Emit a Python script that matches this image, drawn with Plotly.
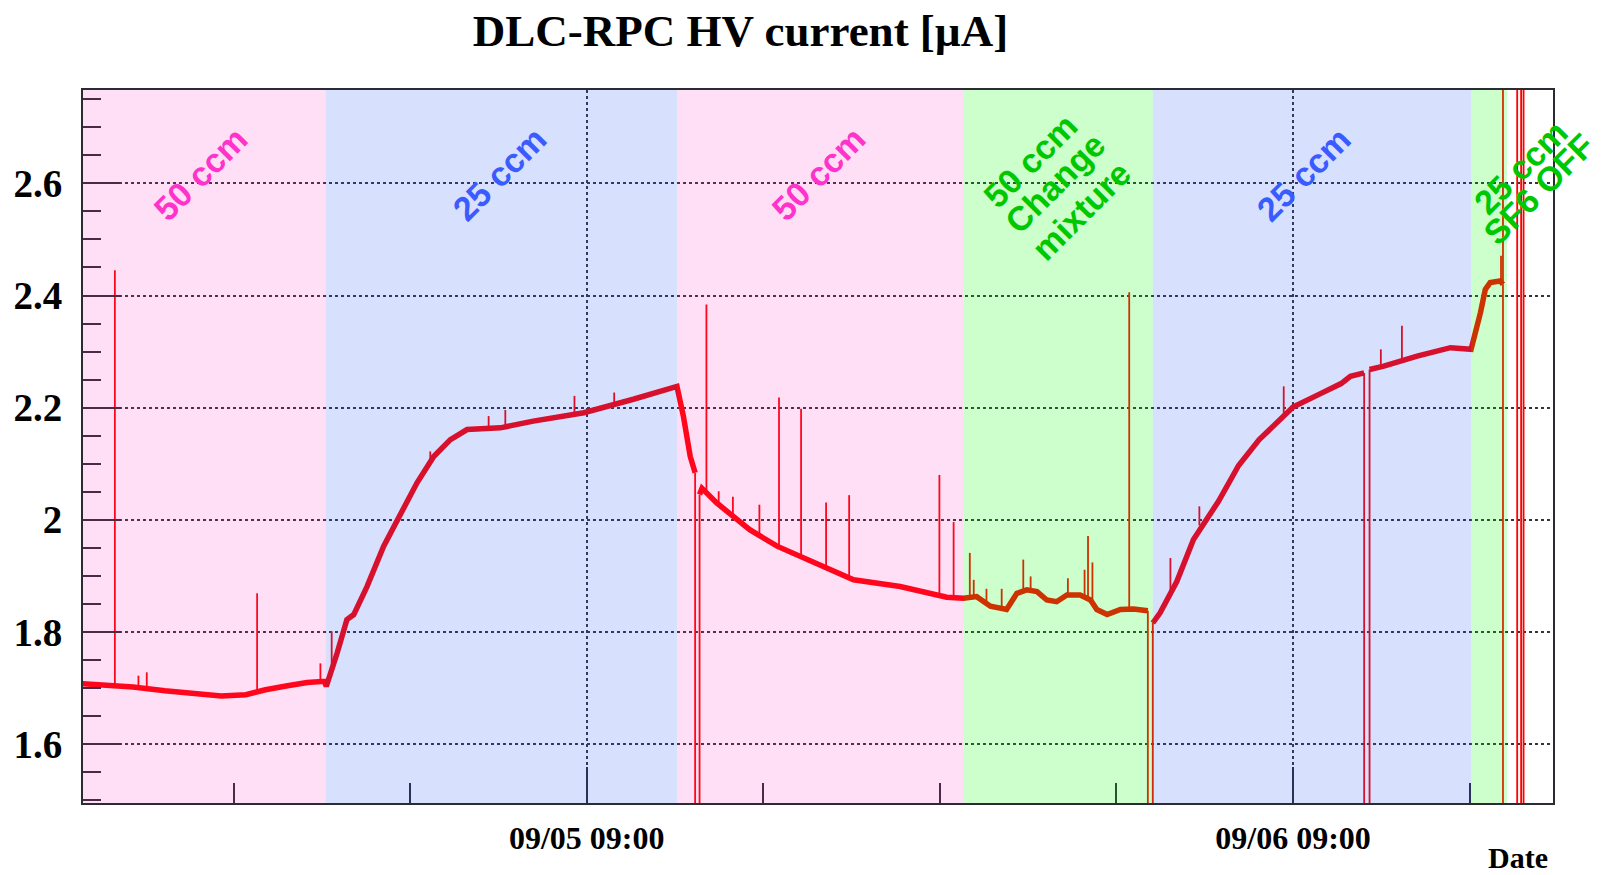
import pandas as pd
import plotly.graph_objects as go

# ---- HV current readings (µA) -------------------------------------------
curve_time = [
    "2023-09-04 15:50", "2023-09-04 16:35", "2023-09-04 17:35", "2023-09-04 18:40",
    "2023-09-04 19:40", "2023-09-04 20:35", "2023-09-04 21:25", "2023-09-04 22:05",
    "2023-09-04 22:50", "2023-09-04 23:30", "2023-09-05 00:05", "2023-09-05 00:09",
    "2023-09-05 00:31", "2023-09-05 00:51", "2023-09-05 01:05", "2023-09-05 01:32",
    "2023-09-05 02:06", "2023-09-05 02:40", "2023-09-05 03:14", "2023-09-05 03:48",
    "2023-09-05 04:22", "2023-09-05 04:56", "2023-09-05 06:04", "2023-09-05 07:11",
    "2023-09-05 08:54", "2023-09-05 10:35", "2023-09-05 12:00", "2023-09-05 12:04",
    "2023-09-05 12:17", "2023-09-05 12:31", "2023-09-05 12:41", None,
    "2023-09-05 12:50", "2023-09-05 12:55", "2023-09-05 13:25", "2023-09-05 13:59",
    "2023-09-05 14:33", "2023-09-05 15:28", "2023-09-05 16:15", "2023-09-05 17:23",
    "2023-09-05 18:04", "2023-09-05 19:39", "2023-09-05 20:47", "2023-09-05 21:14",
    "2023-09-05 21:48", "2023-09-05 22:15", "2023-09-05 22:43", "2023-09-05 23:16",
    "2023-09-05 23:37", "2023-09-05 23:57", "2023-09-06 00:18", "2023-09-06 00:38",
    "2023-09-06 00:58", "2023-09-06 01:19", "2023-09-06 01:46", "2023-09-06 02:07",
    "2023-09-06 02:20", "2023-09-06 02:41", "2023-09-06 03:08", "2023-09-06 03:35",
    "2023-09-06 04:04", None,
    "2023-09-06 04:14", "2023-09-06 04:29", "2023-09-06 05:03", "2023-09-06 05:37",
    "2023-09-06 06:28", "2023-09-06 07:09", "2023-09-06 07:51", "2023-09-06 08:33",
    "2023-09-06 09:00", "2023-09-06 09:56", "2023-09-06 10:38", "2023-09-06 10:57",
    "2023-09-06 11:25", None,
    "2023-09-06 11:36", "2023-09-06 12:05", "2023-09-06 13:13", "2023-09-06 14:21",
    "2023-09-06 15:03", "2023-09-06 15:12", "2023-09-06 15:22", "2023-09-06 15:32",
    "2023-09-06 15:42", "2023-09-06 16:02", "2023-09-06 16:08",
]
curve_value = [
    1.708, 1.706, 1.702, 1.695,
    1.690, 1.686, 1.688, 1.697,
    1.704, 1.710, 1.712, 1.703,
    1.762, 1.822, 1.831, 1.881,
    1.953, 2.012, 2.066, 2.113,
    2.143, 2.161, 2.164, 2.176,
    2.191, 2.215, 2.235, 2.238,
    2.185, 2.113, 2.084, None,
    2.045, 2.056, 2.030, 2.006,
    1.982, 1.953, 1.935, 1.911,
    1.893, 1.881, 1.866, 1.862,
    1.860, 1.863, 1.846, 1.840,
    1.869, 1.875, 1.872, 1.857,
    1.854, 1.866, 1.866, 1.857,
    1.840, 1.831, 1.840, 1.841,
    1.838, None,
    1.816, 1.834, 1.890, 1.965,
    2.033, 2.097, 2.143, 2.180,
    2.201, 2.225, 2.243, 2.256,
    2.262, None,
    2.268, 2.274, 2.292, 2.307,
    2.304, 2.334, 2.369, 2.411,
    2.423, 2.426, 2.420,
]

# ---- single-sample excursions: time, level before, level reached -------
spike_time = [
    "2023-09-04 16:58", "2023-09-04 17:46", "2023-09-04 18:03", "2023-09-04 21:48",
    "2023-09-04 23:57", "2023-09-05 00:20", "2023-09-05 03:41", "2023-09-05 05:40",
    "2023-09-05 06:14", "2023-09-05 08:35", "2023-09-05 09:56",
    "2023-09-05 12:41", "2023-09-05 12:50",
    "2023-09-05 13:04", "2023-09-05 13:29", "2023-09-05 13:58", "2023-09-05 14:52",
    "2023-09-05 15:32", "2023-09-05 16:17", "2023-09-05 17:08", "2023-09-05 17:55",
    "2023-09-05 20:59", "2023-09-05 21:28",
    "2023-09-05 22:01", "2023-09-05 22:09", "2023-09-05 22:35", "2023-09-05 23:06",
    "2023-09-05 23:50", "2023-09-06 00:05", "2023-09-06 01:21", "2023-09-06 01:55",
    "2023-09-06 02:02", "2023-09-06 02:11", "2023-09-06 03:26",
    "2023-09-06 04:04", "2023-09-06 04:14",
    "2023-09-06 04:50", "2023-09-06 05:49", "2023-09-06 08:41",
    "2023-09-06 11:25", "2023-09-06 11:36",
    "2023-09-06 11:59", "2023-09-06 12:42", "2023-09-06 16:04",
    "2023-09-06 16:08", "2023-09-06 16:08",
    "2023-09-06 16:37", "2023-09-06 16:45", "2023-09-06 16:50",
]
spike_base = [
    1.705, 1.702, 1.700, 1.690,
    1.711, 1.730, 2.105, 2.165,
    2.166, 2.190, 2.208,
    2.084, 2.045,
    2.045, 2.030, 2.007, 1.970,
    1.951, 1.935, 1.917, 1.897,
    1.864, 1.862,
    1.862, 1.862, 1.850, 1.840,
    1.872, 1.874, 1.866, 1.864,
    1.862, 1.855, 1.842,
    1.838, 1.816,
    1.862, 1.990, 2.185,
    2.262, 2.268,
    2.272, 2.282, 2.426,
    2.420, 2.420,
    0.0, 0.0, 0.0,
]
spike_peak = [
    2.445, 1.722, 1.728, 1.869,
    1.744, 1.801, 2.122, 2.185,
    2.196, 2.221, 2.227,
    0.0, 0.0,
    2.384, 2.051, 2.041, 2.027,
    2.218, 2.198, 2.031, 2.044,
    2.080, 1.996,
    1.941, 1.893, 1.877, 1.877,
    1.929, 1.899, 1.896, 1.911,
    1.971, 1.924, 2.406,
    0.0, 0.0,
    1.932, 2.024, 2.238,
    0.0, 0.0,
    2.304, 2.346, 2.471,
    0.0, 5.0,
    5.0, 5.0, 5.0,
]

# ---- gas-flow periods ---------------------------------------------------
period_edges = [
    "2023-09-04 15:53", "2023-09-05 00:08", "2023-09-05 12:04", "2023-09-05 21:48",
    "2023-09-06 04:14", "2023-09-06 15:03", "2023-09-06 16:16",
]
period_kind = ["50", "25", "50", "mix", "25", "mix"]
period_text = [
    ["50 ccm"], ["25 ccm"], ["50 ccm"],
    ["50 ccm", "Change", "mixture"], ["25 ccm"], ["25 ccm", "SF6 OFF"],
]
# pixel offsets of each text line from the period centre
period_text_shift = [
    [(-4, 0)], [(-2, 0)], [(-2, 0)],
    [(-28, 13), (-3, -9), (23, -37)], [(-8, 0)], [(32, 7), (50, -15)],
]

tint = {
    "50": "rgba(255, 40, 190, 0.15)",
    "25": "rgba(40, 90, 240, 0.19)",
    "mix": "rgba(0, 255, 0, 0.20)",
}
text_color = {"50": "#FF33CC", "25": "#3A5BFF", "mix": "#00C800"}

x_range = ["2023-09-04 15:53", "2023-09-06 17:50"]
y_range = [1.495, 2.7665]

# ---- figure -------------------------------------------------------------
fig = go.Figure()

fig.add_trace(go.Scatter(
    x=curve_time, y=curve_value, mode="lines", connectgaps=False,
    line=dict(color="#FF0000", width=5.5), hoverinfo="skip", showlegend=False,
))

sx, sy = [], []
for t, b, p in zip(spike_time, spike_base, spike_peak):
    sx += [t, t, None]
    sy += [b, p, None]
fig.add_trace(go.Scatter(
    x=sx, y=sy, mode="lines", connectgaps=False,
    line=dict(color="#FF0000", width=1.8), hoverinfo="skip", showlegend=False,
))

edges = pd.to_datetime(period_edges)
for i, kind in enumerate(period_kind):
    fig.add_shape(
        type="rect", xref="x", yref="paper",
        x0=edges[i], x1=edges[i + 1], y0=0, y1=1,
        fillcolor=tint[kind], line=dict(width=0), layer="above",
    )
    mid = edges[i] + (edges[i + 1] - edges[i]) / 2
    for line_txt, (dx, dy) in zip(period_text[i], period_text_shift[i]):
        fig.add_annotation(
            x=mid, y=0.882, xref="x", yref="paper",
            text=line_txt, showarrow=False, textangle=-45,
            xanchor="center", yanchor="middle", xshift=dx, yshift=dy,
            font=dict(family="Liberation Sans", size=34, color=text_color[kind], weight="bold"),
        )

fig.add_annotation(
    x=0.9762, y=-0.0765, xref="paper", yref="paper", text="Date",
    showarrow=False, xanchor="center", yanchor="middle",
    font=dict(family="Liberation Serif", size=30, color="black", weight="bold"),
)

axis_col = "#2b2b33"
fig.update_xaxes(
    type="date", range=x_range, automargin=False,
    tickformat="%m/%d %H:%M", tick0="2023-09-05 09:00", dtick=86400000,
    ticks="inside", ticklen=36, tickwidth=2, tickcolor=axis_col,
    minor=dict(tick0="2023-09-05 09:00", dtick=21600000, ticks="inside",
               ticklen=20, tickwidth=2, tickcolor=axis_col, showgrid=False),
    showgrid=True, griddash="dot", gridcolor="#333340", gridwidth=1.6,
    showline=True, linewidth=2, linecolor=axis_col, mirror=True,
    zeroline=False, ticklabelstandoff=6,
    tickfont=dict(family="Liberation Serif", size=32, color="black", weight="bold"),
)
fig.update_yaxes(
    range=y_range, tick0=1.6, dtick=0.2, automargin=False,
    ticks="inside", ticklen=37, tickwidth=2, tickcolor=axis_col,
    minor=dict(tick0=1.6, dtick=0.05, ticks="inside", ticklen=18,
               tickwidth=2, tickcolor=axis_col, showgrid=False),
    showgrid=True, griddash="dot", gridcolor="#333340", gridwidth=1.6,
    showline=True, linewidth=2, linecolor=axis_col, mirror=True,
    zeroline=False, ticklabelstandoff=11,
    tickfont=dict(family="Liberation Serif", size=39, color="black", weight="bold"),
)

fig.update_layout(
    width=1605, height=875,
    margin=dict(l=83, r=52, t=90, b=72, pad=0),
    paper_bgcolor="white", plot_bgcolor="white",
    title=dict(
        text="DLC-RPC HV current [µA]", x=0.4614, y=0.9657,
        xref="container", yref="container", xanchor="center", yanchor="middle",
        font=dict(family="Liberation Serif", size=45, color="black", weight="bold"),
    ),
    showlegend=False,
)

fig.write_html("out.html")
